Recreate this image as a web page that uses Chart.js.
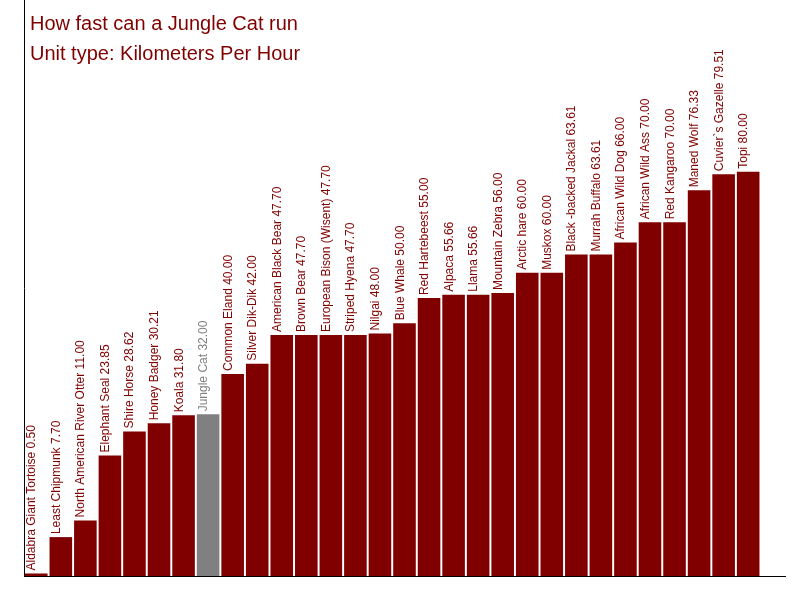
<!DOCTYPE html>
<html><head><meta charset="utf-8">
<script src="https://cdn.jsdelivr.net/npm/chart.js@4/dist/chart.umd.min.js"></script>
<style>html,body{margin:0;padding:0;background:#fff}#w{width:800px;height:600px}</style>
</head><body><div id="w"><canvas id="c"></canvas></div>
<script>
const categories = ["Aldabra Giant Tortoise","Least Chipmunk","North American River Otter","Elephant Seal","Shire Horse","Honey Badger","Koala","Jungle Cat","Common Eland","Silver Dik-Dik","American Black Bear","Brown Bear","European Bison (Wisent)","Striped Hyena","Nilgai","Blue Whale","Red Hartebeest","Alpaca","Llama","Mountain Zebra","Arctic hare","Muskox","Black -backed Jackal","Murrah Buffalo","African Wild Dog","African Wild Ass","Red Kangaroo","Maned Wolf","Cuvier`s Gazelle","Topi"];
const speeds = [0.5,7.7,11.0,23.85,28.62,30.21,31.8,32.0,40.0,42.0,47.7,47.7,47.7,47.7,48.0,50.0,55.0,55.66,55.66,56.0,60.0,60.0,63.61,63.61,66.0,70.0,70.0,76.33,79.51,80.0];
const highlight = "Jungle Cat";
const titleLines = ["How fast can a Jungle Cat run","Unit type: Kilometers Per Hour"];
const labels = categories.concat([""]);
const data = speeds.concat([null]);
const colors = labels.map(l => l===highlight ? "#808080" : "#800000");
const labelPlugin = {
  id:"lbl",
  afterDatasetsDraw(chart){
    const ctx=chart.ctx, meta=chart.getDatasetMeta(0);
    ctx.save();
    ctx.font="12px Arial, 'Liberation Sans', sans-serif";
    ctx.textBaseline="top";ctx.textAlign="left";
    meta.data.forEach((b,i)=>{
      if(data[i]==null) return;
      ctx.save();
      ctx.translate(b.x-b.width/2+1, b.y-3);
      ctx.rotate(-Math.PI/2);
      ctx.fillStyle=colors[i];
      ctx.fillText(categories[i]+" "+data[i].toFixed(2),0,0);
      ctx.restore();
    });
    ctx.fillStyle="#800000";
    ctx.font="20px Arial, 'Liberation Sans', sans-serif";
    ctx.textBaseline="alphabetic";
    ctx.fillText(titleLines[0],30,30);
    ctx.fillText(titleLines[1],30,60);
    ctx.restore();
  }
};
new Chart(document.getElementById("c"),{
  type:"bar",
  data:{labels,datasets:[{data,backgroundColor:colors,categoryPercentage:1,barPercentage:0.92}]},
  options:{responsive:true,maintainAspectRatio:false,animation:false,
    layout:{padding:{left:16,right:15,top:0,bottom:16}},
    plugins:{legend:{display:false},tooltip:{enabled:false}},
    scales:{
      x:{ticks:{display:false},grid:{display:false},border:{color:"#000"}},
      y:{min:0,max:114,ticks:{display:false},grid:{display:false},border:{color:"#000"}}
    }},
  plugins:[labelPlugin]
});
</script></body></html>
